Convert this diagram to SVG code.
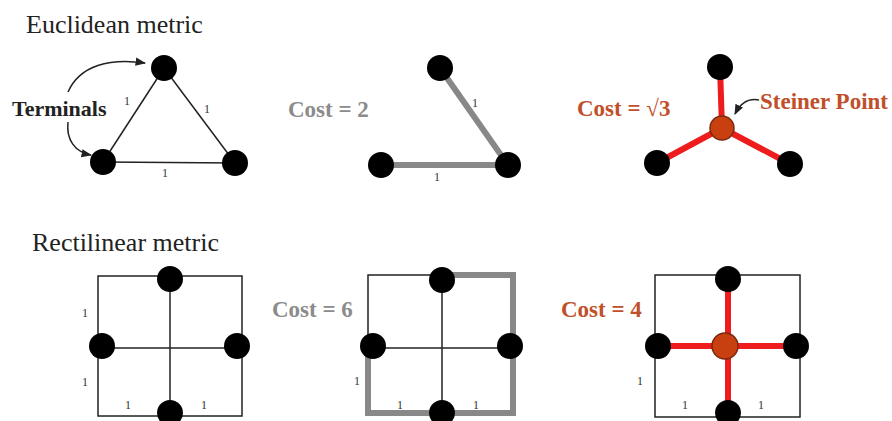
<svg xmlns="http://www.w3.org/2000/svg" width="892" height="421" viewBox="0 0 892 421">
<style>
.t{font-family:"Liberation Serif","Times New Roman",serif;fill:#222}
.h{font-size:26px}
.b{font-weight:bold;font-size:23px}
.tm{font-size:22px}
.l{font-size:12px;fill:#333}
.gray{fill:#8c8c8c}
.red{fill:#c0502a}
.thin{stroke:#222;stroke-width:1.5;fill:none}
.gp{stroke:#888;stroke-width:6;fill:none}
.rp{stroke:#ee1c1c;stroke-width:6;fill:none}
.n{fill:#000}
.s{fill:#c8400f;stroke:#7a2a10;stroke-width:1.5}
</style>
<defs>
<marker id="ah" viewBox="0 0 10 10" refX="9" refY="5" markerWidth="7" markerHeight="7" orient="auto-start-reverse">
<path d="M0,1 L10,5 L0,9 Z" fill="#222"/>
</marker>
</defs>
<rect width="892" height="421" fill="#fff"/>

<text class="t h" x="26" y="33">Euclidean metric</text>
<text class="t h" x="32" y="251">Rectilinear metric</text>

<g id="connectors">
<line class="thin" x1="164" y1="68" x2="103" y2="162"/>
<line class="thin" x1="164" y1="68" x2="235" y2="163"/>
<line class="thin" x1="103" y1="162" x2="235" y2="163"/>
<path class="thin" d="M68,92 C80,65 110,58 145,63" marker-end="url(#ah)" stroke-width="1.2"/>
<path class="thin" d="M68,122 C66,140 75,152 91,155" marker-end="url(#ah)" stroke-width="1.2"/>
<line class="gp" x1="440" y1="68" x2="508" y2="165"/>
<line class="gp" x1="381" y1="165" x2="508" y2="165"/>
<line class="rp" x1="720" y1="67" x2="722" y2="128"/>
<line class="rp" x1="657" y1="163" x2="722" y2="128"/>
<line class="rp" x1="790" y1="164" x2="722" y2="128"/>
<path class="thin" d="M759,100 C748,98 740,104 735,114" marker-end="url(#ah)" stroke-width="1.2"/>
<rect class="thin" x="98" y="276" width="144" height="140"/>
<line class="thin" x1="98" y1="348" x2="242" y2="348"/>
<line class="thin" x1="170" y1="276" x2="170" y2="416"/>
<rect class="thin" x="368" y="275" width="145" height="138"/>
<line class="thin" x1="368" y1="348" x2="513" y2="348"/>
<line class="thin" x1="442" y1="275" x2="442" y2="413"/>
<path class="gp" d="M442,275 H513 V413 H368 V346"/>
<rect class="thin" x="655" y="275" width="145" height="142"/>
<line class="rp" x1="728" y1="279" x2="728" y2="413"/>
<line class="rp" x1="658" y1="346" x2="796" y2="346"/>
</g>

<g id="n-e1"><circle class="n" cx="164" cy="68" r="13"/></g>
<g id="n-e2"><circle class="n" cx="103" cy="162" r="13"/></g>
<g id="n-e3"><circle class="n" cx="235" cy="163" r="13"/></g>
<g id="n-m1"><circle class="n" cx="440" cy="68" r="13"/></g>
<g id="n-m2"><circle class="n" cx="381" cy="165" r="13"/></g>
<g id="n-m3"><circle class="n" cx="508" cy="165" r="13"/></g>
<g id="n-s1"><circle class="n" cx="720" cy="67" r="13"/></g>
<g id="n-s2"><circle class="n" cx="657" cy="163" r="13"/></g>
<g id="n-s3"><circle class="n" cx="790" cy="164" r="13"/></g>
<g id="n-sp"><circle class="s" cx="722" cy="128" r="12"/></g>

<g id="n-r1"><circle class="n" cx="170" cy="279" r="13"/></g>
<g id="n-r2"><circle class="n" cx="102" cy="346" r="13"/></g>
<g id="n-r3"><circle class="n" cx="237" cy="346" r="13"/></g>
<g id="n-r4"><circle class="n" cx="170" cy="413" r="13"/></g>
<g id="n-q1"><circle class="n" cx="442" cy="280" r="13"/></g>
<g id="n-q2"><circle class="n" cx="373" cy="346" r="13"/></g>
<g id="n-q3"><circle class="n" cx="510" cy="346" r="13"/></g>
<g id="n-q4"><circle class="n" cx="442" cy="413" r="13"/></g>
<g id="n-p1"><circle class="n" cx="728" cy="279" r="13"/></g>
<g id="n-p2"><circle class="n" cx="658" cy="346" r="13"/></g>
<g id="n-p3"><circle class="n" cx="796" cy="346" r="13"/></g>
<g id="n-p4"><circle class="n" cx="728" cy="413" r="13"/></g>
<g id="n-pc"><circle class="s" cx="725" cy="346" r="13"/></g>

<g id="labels">
<text class="t b tm" x="12" y="116">Terminals</text>
<text class="t l" x="124" y="105">1</text>
<text class="t l" x="204" y="113">1</text>
<text class="t l" x="162" y="177">1</text>
<text class="t b gray" x="288" y="117">Cost = 2</text>
<text class="t l" x="472" y="107">1</text>
<text class="t l" x="434" y="181">1</text>
<text class="t b red" x="577" y="116">Cost = √3</text>
<text class="t b red" x="760" y="109">Steiner Point</text>
<text class="t l" x="82" y="317">1</text>
<text class="t l" x="82" y="386">1</text>
<text class="t l" x="125" y="409">1</text>
<text class="t l" x="201" y="409">1</text>
<text class="t b gray" x="272" y="317">Cost = 6</text>
<text class="t l" x="354" y="385">1</text>
<text class="t l" x="397" y="409">1</text>
<text class="t l" x="473" y="409">1</text>
<text class="t b red" x="561" y="317">Cost = 4</text>
<text class="t l" x="637" y="385">1</text>
<text class="t l" x="682" y="409">1</text>
<text class="t l" x="758" y="409">1</text>
</g>
</svg>
